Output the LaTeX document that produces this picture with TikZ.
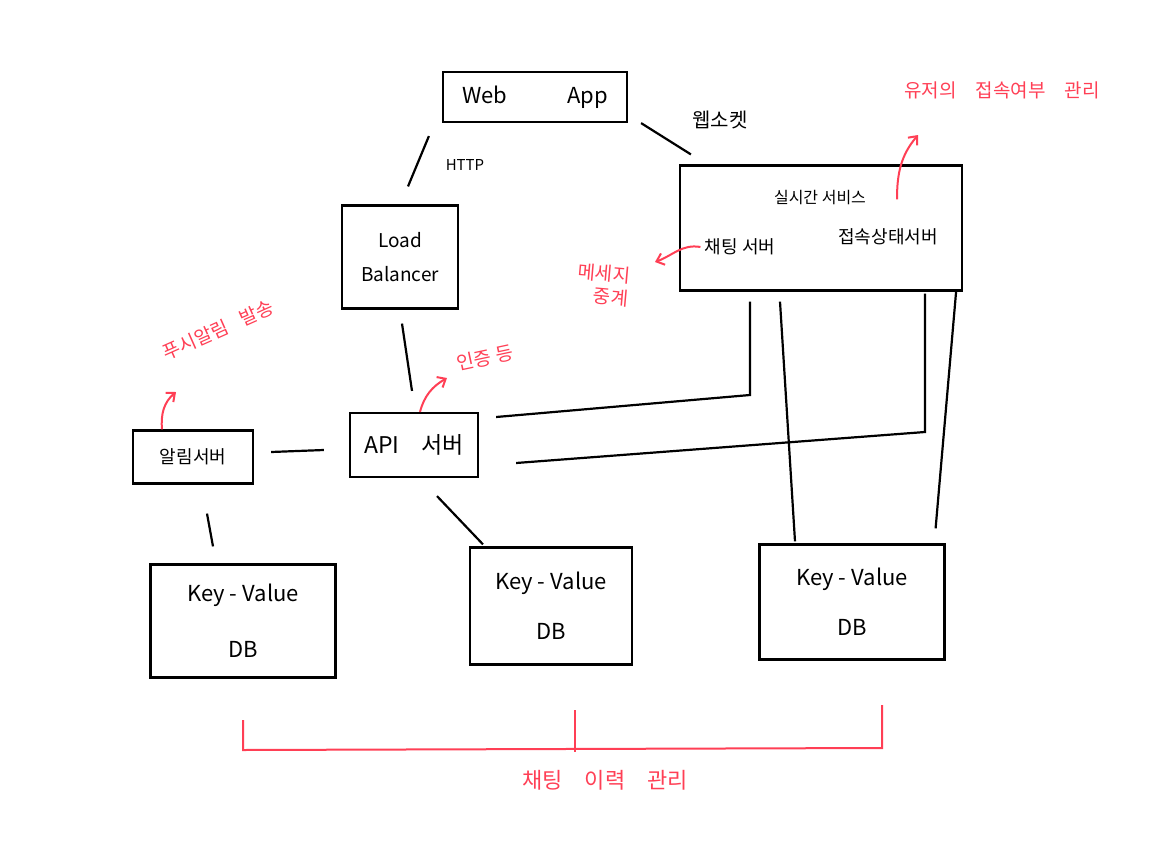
\documentclass[tikz,border=0pt]{standalone}
\usepackage{fontspec}
\setmainfont{Noto Sans CJK KR}
\usepackage{xcolor}
\usetikzlibrary{arrows.meta}
\definecolor{penred}{HTML}{FF3F55}

\begin{document}
\begin{tikzpicture}[x=1pt, y=1pt, line width=2.2pt,
    box/.style={draw, rectangle},
    txt/.style={font=\fontsize{18}{22}\selectfont},
    db/.style={draw, rectangle, minimum width=185pt, minimum height=115pt, align=center, font=\fontsize{22}{50}\selectfont},
    note/.style={text=penred, font=\fontsize{19}{23}\selectfont},
    redarrow/.style={draw=penred, line width=2pt, -{Straight Barb[length=7pt,width=12pt]}}]
    \useasboundingbox (0,0) rectangle (1151,-846);

    \node[box, minimum width=184pt, minimum height=50pt, font=\fontsize{22}{26}\selectfont] (web) at (535,-97) {Web\hspace{60pt}App};
    \node[box, minimum width=116pt, minimum height=103pt, align=center, font=\fontsize{19}{34}\selectfont] (lb) at (400,-257) {Load\\Balancer};
    \node[box, minimum width=282pt, minimum height=125pt] (rt) at (821,-228) {};
    \node[font=\fontsize{16}{20}\selectfont] (rtname) at (820,-198) {실시간 서비스};
    \node[txt] (chat) at (740,-247) {채팅 서버};
    \node[txt] (status) at (888,-237) {접속상태서버};
    \node[box, txt, minimum width=120pt, minimum height=53pt] (noti) at (193,-457) {알림서버};
    \node[box, minimum width=128pt, minimum height=64pt, font=\fontsize{23}{26}\selectfont] (api) at (414,-445) {API\hspace{22pt}서버};
    \node[db, minimum height=113pt, font=\fontsize{22}{56}\selectfont] (db1) at (243,-621) {Key - Value\\DB};
    \node[db, minimum width=162pt, minimum height=117pt] (db2) at (551,-606) {Key - Value\\DB};
    \node[db] (db3) at (852,-602) {Key - Value\\DB};

    \node[font=\fontsize{15}{18}\selectfont] (http) at (465,-165) {HTTP};
    \node[font=\fontsize{20}{24}\selectfont] (ws) at (720,-120) {웹소켓};
    \node[note] (usr) at (1002,-90) {유저의\quad 접속여부\quad 관리};
    \node[note, align=right, rotate=-5] (msg) at (603,-285) {메세지\\중계};
    \node[note, rotate=24] (push) at (218,-330) {푸시알림\hspace{14pt}발송};
    \node[note, rotate=12] (auth) at (485,-358) {인증 등};
    \node[note, font=\fontsize{22}{26}\selectfont] (hist) at (605,-780) {채팅\quad 이력\quad 관리};

    \coordinate (usrtip) at (918,-135);
    \coordinate (msgtip) at (655,-262);
    \coordinate (pushtip) at (176,-392);
    \coordinate (authtip) at (447,-378);
    \coordinate (b1) at (750,-395);
    \coordinate (b2) at (925,-432);

    \draw ([xshift=-13pt,yshift=-13pt]web.south west) -- ([xshift=8pt,yshift=18pt]lb.north);
    \draw ([xshift=13pt]web.south east) -- ([xshift=12pt,yshift=10pt]rt.north west);
    \draw ([xshift=2pt,yshift=-14pt]lb.south) -- ([xshift=-2pt,yshift=21pt]api.north);
    \draw ([xshift=17pt,yshift=5pt]noti.east) -- ([xshift=-25pt,yshift=-5pt]api.west);
    \draw ([xshift=14pt,yshift=-29pt]noti.south) -- ([xshift=-30pt,yshift=17pt]db1.north);
    \draw ([xshift=23pt,yshift=-18pt]api.south) -- ([xshift=-68pt,yshift=2pt]db2.north);
    \draw ([xshift=17pt,yshift=28pt]api.east) -- (b1) -- ([xshift=-71pt,yshift=-10pt]rt.south);
    \draw ([xshift=37pt,yshift=-18pt]api.east) -- (b2) -- ([xshift=104pt,yshift=-2pt]rt.south);
    \draw ([xshift=-41pt,yshift=-10pt]rt.south) -- ([xshift=-57pt,yshift=2pt]db3.north);
    \draw ([xshift=-7pt]rt.south east) -- ([xshift=-10pt,yshift=15pt]db3.north east);

    \draw[redarrow] ([xshift=9pt,yshift=25pt]status.north) to[out=90,in=230] (usrtip);
    \draw[redarrow] (chat.west) to[out=170,in=20] (msgtip);
    \draw[redarrow] ([xshift=-31pt]noti.north) to[out=95,in=220] (pushtip);
    \draw[redarrow] ([xshift=6pt]api.north) to[out=75,in=210] (authtip);

    \draw[penred, line width=2pt] (243,-720) -- (243,-750) -- (882,-748) -- (882,-705);
    \draw[penred, line width=2pt] (575,-710) -- (575,-752);
\end{tikzpicture}
\end{document}
